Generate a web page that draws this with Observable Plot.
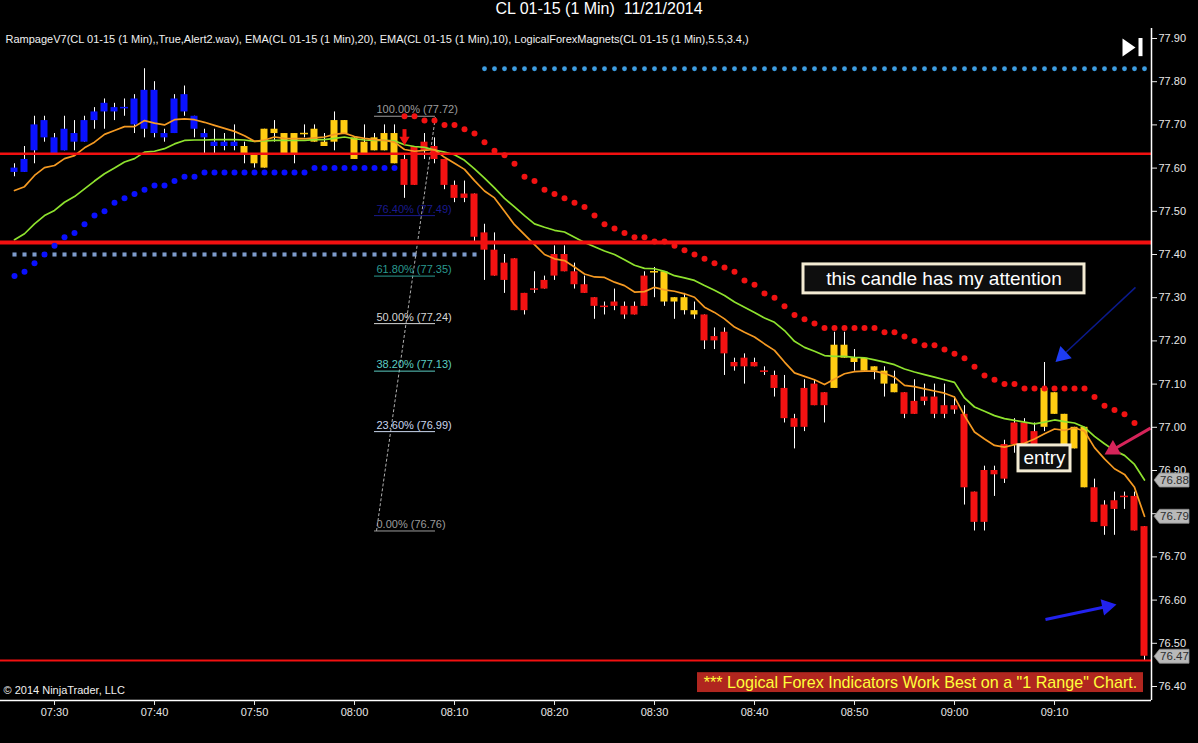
<!DOCTYPE html>
<html><head><meta charset="utf-8">
<script src="https://cdn.jsdelivr.net/npm/d3@7"></script>
<script src="https://cdn.jsdelivr.net/npm/@observablehq/plot@0.6"></script>
<style>
html,body{margin:0;padding:0;background:#000;}
#title{height:28px;line-height:27px;text-align:center;color:#fff;font:16px "Liberation Sans",Arial,sans-serif;background:#000;white-space:pre;}
#chart svg{display:block}
</style></head><body>
<div id="title">CL 01-15 (1 Min)  11/21/2014</div>
<div id="chart"></div>
<script>
// ---- tick labels (candle 0 = 07:26, one candle per minute)
const timeTickIdx = [4,14,24,34,44,54,64,74,84,94,104];
const timeTickLabels = ["07:30","07:40","07:50","08:00","08:10","08:20","08:30","08:40","08:50","09:00","09:10"];
const priceTicks = [76.40,76.50,76.60,76.70,76.80,76.90,77.00,77.10,77.20,77.30,77.40,77.50,77.60,77.70,77.80,77.90];
const hiddenPriceLabels = [76.80]; // covered by the 76.79 tag in the reference

// ---- OHLC
const opens = [77.59,77.59,77.64,77.71,77.67,77.64,77.68,77.66,77.71,77.73, 77.74,77.74,77.70,77.69,77.78,77.68,77.68,77.77,77.72,77.68, 77.66,77.66,77.65,77.65,77.63,77.60,77.68,77.68,77.63,77.68, 77.69,77.66,77.66,77.71,77.67,77.63,77.64,77.64,77.68,77.62, 77.65,77.66,77.65,77.62,77.56,77.54,77.54,77.45,77.41,77.38, 77.39,77.31,77.32,77.32,77.35,77.40,77.36,77.33,77.30,77.28, 77.29,77.28,77.26,77.28,77.36,77.36,77.30,77.30,77.27,77.26, 77.21,77.22,77.15,77.14,77.15,77.13,77.12,77.09,77.02,77.00, 77.10,77.05,77.09,77.19,77.16,77.16,77.14,77.13,77.10,77.08, 77.06,77.07,77.07,77.05,77.05,77.03,76.85,76.78,76.90,76.88, 76.96,77.01,76.99,77.00,77.08,77.03,76.95,77.00,76.86,76.82, 76.81,76.84,76.84,76.77];
const highs = [77.61,77.65,77.72,77.72,77.68,77.72,77.71,77.72,77.74,77.76, 77.75,77.76,77.77,77.83,77.80,77.69,77.77,77.79,77.72,77.69, 77.69,77.68,77.70,77.66,77.63,77.69,77.71,77.68,77.68,77.70, 77.70,77.68,77.73,77.71,77.67,77.70,77.68,77.70,77.70,77.63, 77.65,77.68,77.67,77.62,77.57,77.57,77.54,77.47,77.45,77.40, 77.39,77.31,77.36,77.35,77.42,77.42,77.38,77.35,77.30,77.29, 77.32,77.29,77.29,77.36,77.37,77.36,77.30,77.31,77.29,77.26, 77.23,77.23,77.16,77.17,77.16,77.14,77.13,77.12,77.03,77.11, 77.11,77.08,77.22,77.22,77.18,77.16,77.14,77.14,77.13,77.08, 77.11,77.10,77.10,77.10,77.07,77.05,76.85,76.91,76.91,76.97, 77.02,77.02,77.01,77.15,77.08,77.03,77.00,77.00,76.88,76.83, 76.85,76.85,76.85,76.77];
const lows = [77.58,77.59,77.61,77.66,77.63,77.64,77.64,77.66,77.69,77.69, 77.71,77.72,77.68,77.67,77.67,77.66,77.68,77.72,77.67,77.63, 77.63,77.64,77.64,77.61,77.60,77.60,77.66,77.63,77.61,77.67, 77.66,77.65,77.64,77.68,77.62,77.63,77.64,77.64,77.61,77.53, 77.56,77.62,77.61,77.55,77.52,77.52,77.43,77.34,77.35,77.31, 77.27,77.26,77.31,77.32,77.34,77.36,77.32,77.31,77.25,77.26, 77.27,77.25,77.26,77.28,77.30,77.28,77.25,77.26,77.25,77.18, 77.18,77.12,77.13,77.10,77.14,77.12,77.07,77.01,76.95,76.99, 77.05,77.01,77.09,77.16,77.13,77.13,77.11,77.07,77.08,77.02, 77.03,77.05,77.02,77.02,77.03,76.82,76.76,76.76,76.84,76.87, 76.94,76.94,76.95,76.99,77.03,76.96,76.95,76.86,76.78,76.75, 76.75,76.81,76.76,76.46];
const closes = [77.60,77.62,77.70,77.67,77.63,77.69,77.66,77.71,77.73,77.75, 77.73,77.74,77.76,77.78,77.68,77.67,77.76,77.73,77.69,77.67, 77.65,77.65,77.66,77.63,77.61,77.69,77.69,77.63,77.68,77.68, 77.66,77.65,77.71,77.68,77.62,77.66,77.67,77.68,77.61,77.56, 77.56,77.64,77.62,77.56,77.53,77.53,77.44,77.41,77.35,77.34, 77.27,77.27,77.32,77.34,77.40,77.36,77.33,77.31,77.28,77.28, 77.28,77.26,77.28,77.35,77.36,77.29,77.29,77.27,77.26,77.20, 77.20,77.17,77.14,77.16,77.14,77.13,77.09,77.02,77.00,77.09, 77.05,77.08,77.19,77.16,77.15,77.13,77.13,77.10,77.08,77.03, 77.03,77.06,77.03,77.03,77.04,76.86,76.78,76.90,76.89,76.96, 77.01,76.94,76.96,77.09,77.03,76.96,77.00,76.86,76.78,76.77, 76.83,76.84,76.76,76.47];
// Rampage trend state per candle: b = up, y = neutral, r = down
const trend = ["b","b","b","b","b","b","b","b","b","b","b","b","b","b","b","b","b","b","b","b","b","b","b",
  "y","y","y","y","y","y","y","y","y","y","y","y","y","y","y","y",
  "r","r","r","r","r","r","r","r","r","r","r","r","r","r","r","r","r","r","r","r","r","r","r","r","r",
  "y","y","y","y","y",
  "r","r","r","r","r","r","r","r","r","r","r","r","r",
  "y","y","y","y","y","y","y",
  "r","r","r","r","r","r","r","r","r","r","r","r","r","r",
  "y","y","y","y","y",
  "r","r","r","r","r","r"];

// ---- EMA(10) orange and EMA(20) green, read per candle
const ema10 = [77.548,77.557,77.583,77.601,77.606,77.622,77.629,77.647,77.660,77.678, 77.687,77.696,77.696,77.710,77.704,77.700,77.712,77.714,77.712,77.706, 77.699,77.692,77.685,77.675,77.662,77.665,77.672,77.669,77.668,77.668, 77.670,77.672,77.678,77.681,77.673,77.669,77.666,77.664,77.660,77.643, 77.639,77.641,77.643,77.625,77.611,77.597,77.571,77.547,77.531,77.500, 77.469,77.446,77.423,77.400,77.390,77.386,77.371,77.355,77.348,77.347, 77.336,77.328,77.313,77.314,77.324,77.318,77.315,77.309,77.301,77.278, 77.266,77.251,77.232,77.220,77.209,77.193,77.178,77.151,77.126,77.118, 77.110,77.099,77.112,77.124,77.129,77.130,77.130,77.125,77.116,77.097, 77.094,77.089,77.084,77.079,77.070,77.027,76.989,76.973,76.958,76.954, 76.960,76.963,76.973,76.985,76.996,76.993,76.999,76.991,76.953,76.927, 76.904,76.891,76.861,76.794];
const ema20 = [77.434,77.448,77.471,77.490,77.502,77.521,77.534,77.552,77.570,77.587, 77.600,77.614,77.622,77.637,77.639,77.645,77.656,77.664,77.665,77.665, 77.666,77.666,77.666,77.665,77.662,77.663,77.664,77.664,77.664,77.664, 77.666,77.666,77.669,77.672,77.668,77.665,77.664,77.664,77.663,77.654, 77.650,77.648,77.642,77.637,77.631,77.618,77.598,77.577,77.554,77.530, 77.510,77.490,77.471,77.463,77.456,77.452,77.440,77.428,77.418,77.408, 77.400,77.388,77.375,77.368,77.367,77.361,77.351,77.346,77.340,77.328, 77.317,77.305,77.290,77.278,77.266,77.253,77.243,77.224,77.199,77.185, 77.176,77.166,77.164,77.164,77.162,77.161,77.156,77.151,77.145,77.135, 77.128,77.122,77.116,77.110,77.104,77.068,77.047,77.037,77.027,77.020, 77.016,77.012,77.008,77.012,77.017,77.013,77.010,77.000,76.979,76.962, 76.946,76.935,76.914,76.878];

// ---- trailing stop dots
const supportStart = 0;   // blue dots, candles 0..38
const supportDots = [77.35,77.36,77.38,77.40,77.42,77.44,77.45,77.47,77.49,77.50, 77.52,77.53,77.54,77.55,77.56,77.56,77.57,77.58,77.58,77.59, 77.59,77.59,77.59,77.59,77.59,77.59,77.59,77.59,77.59,77.59, 77.60,77.60,77.60,77.60,77.60,77.60,77.60,77.60,77.60];
const resistStart = 39;   // red dots, candles 39..112
const resistDots = [77.72,77.72,77.71,77.71,77.70,77.70,77.69,77.68,77.66,77.64, 77.63,77.61,77.58,77.57,77.55,77.54,77.53,77.52,77.51,77.49, 77.47,77.46,77.45,77.44,77.44,77.43,77.43,77.42,77.41,77.40, 77.39,77.38,77.37,77.36,77.34,77.33,77.31,77.30,77.28,77.26, 77.25,77.24,77.23,77.23,77.23,77.23,77.23,77.23,77.22,77.22, 77.21,77.20,77.19,77.19,77.18,77.17,77.16,77.14,77.12,77.11, 77.10,77.10,77.09,77.09,77.09,77.09,77.09,77.09,77.09,77.07, 77.05,77.04,77.03,77.01];

// ---- magnet levels (dotted)
const magnetFrom = [0, 47], magnetTo = [46, 113], magnetPrice = [77.40, 77.83], magnetKind = ["square", "circle"];

// ---- horizontal red levels
const levelPrices = [77.633, 77.428, 76.46];
const levelWidths = [2.5, 4, 2];

// ---- Fibonacci retracement
const fibLabels = ["100.00% (77.72)","76.40% (77.49)","61.80% (77.35)","50.00% (77.24)","38.20% (77.13)","23.60% (76.99)","0.00% (76.76)"];
const fibPrices = [77.72, 77.49, 77.35, 77.24, 77.13, 76.99, 76.76];
const fibColors = ["#9c9c9c","#1a1a8e","#2b9a90","#d6d6d6","#5ccdc2","#c9d6ee","#9c9c9c"];
const fibSpan = {x1: 36.0, x2: 42.1, startX: 36.2, endX: 42.1};

// ---- annotations (data coordinates: candle index, price)
const notes = [
  {text: "this candle has my attention", x1: 78.9, x2: 107.0, y1: 77.377, y2: 77.310, tx: 92.95, ty: 77.343},
  {text: "entry", x1: 100.4, x2: 105.6, y1: 76.958, y2: 76.898, tx: 103.0, ty: 76.928}
];
const arrows = [
  {x1: 112.1, y1: 77.324, x2: 104.1, y2: 77.151, line: "#0b1a8c", head: "#1e3cf4", w: 1.5},
  {x1: 113.6, y1: 76.998, x2: 109.0, y2: 76.937, line: "#d6245a", head: "#d6245a", w: 3},
  {x1: 103.1, y1: 76.555, x2: 110.2, y2: 76.590, line: "#2222ee", head: "#2222ee", w: 3}
];
const signalArrow = {i: 39, stemTop: 77.689, stemBottom: 77.668, head: 77.666};
const banner = {text: '*** Logical Forex Indicators Work Best on a "1 Range" Chart.', x1: 68.3, x2: 112.9, y1: 76.432, y2: 76.386, tx: 90.6, ty: 76.409};
const legendText = "RampageV7(CL 01-15 (1 Min),,True,Alert2.wav), EMA(CL 01-15 (1 Min),20), EMA(CL 01-15 (1 Min),10), LogicalForexMagnets(CL 01-15 (1 Min),5.5,3.4,)";
const copyrightText = "\u00a9 2014 NinjaTrader, LLC";
const playIcon = {x: 111.45, y: 77.879, barX: 112.6, barTop: 77.90, barBottom: 77.858};

// ---------------------------------------------------------------
const xDomain = [0, 113], xRange = [14, 1144];
const yDomain = [76.40, 77.90], yRange = [658, 10];
const pxX = (xRange[1] - xRange[0]) / (xDomain[1] - xDomain[0]);
const pxY = (yRange[0] - yRange[1]) / (yDomain[1] - yDomain[0]);
const W = 1198, H = 715, mR = 47, mB = 43;
const axisRightX = xDomain[0] + ((W - mR) - xRange[0]) / pxX;
const axisBottomY = yDomain[0] - ((H - mB) - yRange[0]) / pxY;

const trendColor = {b: "#0a12ff", y: "#ffcc12", r: "#f21212"};
const candles = opens.map((o, i) => ({i, open: o, high: highs[i], low: lows[i], close: closes[i], color: trendColor[trend[i]]}));
const bodies = candles.filter(d => d.open !== d.close);
const dojis = candles.filter(d => d.open === d.close);
const emaRows = ema10.map((v, i) => ({i, e10: v, e20: ema20[i]}));
const supRows = supportDots.map((v, k) => ({i: supportStart + k, v}));
const resRows = resistDots.map((v, k) => ({i: resistStart + k, v}));
const magnetRows = [];
magnetPrice.forEach((p, m) => { for (let i = magnetFrom[m]; i <= magnetTo[m]; i++) magnetRows.push({i, v: p, kind: magnetKind[m]}); });
const levels = levelPrices.map((p, k) => ({p, w: levelWidths[k]}));
const fibs = fibPrices.map((p, k) => ({p, label: fibLabels[k], color: fibColors[k]}));

const headR = 6.2;
const headBack = 2 * Math.sqrt(Math.PI * headR * headR / (3 * Math.sqrt(3)));
const arrowRows = arrows.map(a => {
  const dx = (a.x2 - a.x1) * pxX, dy = -(a.y2 - a.y1) * pxY;
  const len = Math.hypot(dx, dy), ux = dx / len, uy = dy / len;
  return {...a, hx: a.x2 - ux * headBack / pxX, hy: a.y2 + uy * headBack / pxY, rot: Math.atan2(ux, -uy) * 180 / Math.PI};
});
const tagRows = [
  {v: ema20[ema20.length - 1]},
  {v: ema10[ema10.length - 1]},
  {v: closes[closes.length - 1]}
];
const tagX = 115.7, tagTextX = 116.0;
const tagSymbol = {draw(ctx) { ctx.moveTo(-17.5, 0); ctx.lineTo(-12, -7); ctx.lineTo(17.5, -7); ctx.lineTo(17.5, 7); ctx.lineTo(-12, 7); ctx.closePath(); }};
const playSymbol = {draw(ctx) { ctx.moveTo(-6.5, -9); ctx.lineTo(6.5, 0); ctx.lineTo(-6.5, 9); ctx.closePath(); }};

const chart = Plot.plot({
  width: W, height: H,
  marginLeft: 0, marginRight: mR, marginTop: 0, marginBottom: mB,
  x: {domain: xDomain, range: xRange},
  y: {domain: yDomain, range: yRange},
  color: {type: "identity"},
  style: {background: "#000", color: "#e8e8e8", fontFamily: "'Liberation Sans', Arial, sans-serif", fontSize: "11px", overflow: "visible"},
  marks: [
    // magnet dotted levels
    Plot.dot(magnetRows.filter(d => d.kind === "square"), {x: "i", y: "v", symbol: "square", r: 2.3, fill: "#7d9bcc"}),
    Plot.dot(magnetRows.filter(d => d.kind === "circle"), {x: "i", y: "v", r: 2.4, fill: "#3d9ce0"}),
    // fib lines and labels
    Plot.link([fibSpan], {x1: "startX", y1: () => fibPrices[fibPrices.length - 1], x2: "endX", y2: () => fibPrices[0], stroke: "#b0b0b0", strokeWidth: 1, strokeDasharray: "3,2"}),
    Plot.ruleY(fibs, {y: "p", x1: () => fibSpan.x1, x2: () => fibSpan.x2, stroke: "color", strokeWidth: 1}),
    Plot.text(fibs, {x: () => fibSpan.startX, y: "p", text: "label", fill: "color", textAnchor: "start", lineAnchor: "bottom", dy: -3, fontSize: 11}),
    // candles
    Plot.ruleX(candles, {x: "i", y1: "low", y2: "high", stroke: "#ffffff", strokeWidth: 1}),
    Plot.rect(bodies, {x1: d => d.i - 0.35, x2: d => d.i + 0.35, y1: "open", y2: "close", fill: "color"}),
    Plot.ruleY(dojis, {y: "open", x1: d => d.i - 0.4, x2: d => d.i + 0.4, stroke: "color", strokeWidth: 1.5}),
    // EMAs
    Plot.line(emaRows, {x: "i", y: "e20", stroke: "#8ee22e", strokeWidth: 1.7}),
    Plot.line(emaRows, {x: "i", y: "e10", stroke: "#f59a22", strokeWidth: 1.7}),
    // red levels
    Plot.ruleY(levels, {y: "p", stroke: "#f21010", strokeWidth: "w"}),
    // trailing dots
    Plot.dot(supRows, {x: "i", y: "v", r: 3, fill: "#0a10ff"}),
    Plot.dot(resRows, {x: "i", y: "v", r: 3, fill: "#f21212"}),
    // signal arrow
    Plot.ruleX([signalArrow], {x: "i", y1: "stemTop", y2: "stemBottom", stroke: "#f21212", strokeWidth: 4}),
    Plot.dot([signalArrow], {x: "i", y: "head", symbol: "triangle", r: 3.8, rotate: 180, fill: "#f21212"}),
    // annotation boxes
    Plot.rect(notes, {x1: "x1", x2: "x2", y1: "y1", y2: "y2", fill: "#0e0e0e", stroke: "#f3ebd3", strokeWidth: 3}),
    Plot.text(notes, {x: "tx", y: "ty", text: "text", fill: "#ffffff", fontSize: 19}),
    // arrows
    Plot.link(arrowRows, {x1: "x1", y1: "y1", x2: "hx", y2: "hy", stroke: "line", strokeWidth: "w"}),
    Plot.dot(arrowRows, {x: "hx", y: "hy", symbol: "triangle", r: headR, rotate: "rot", fill: "head"}),
    // banner
    Plot.rect([banner], {x1: "x1", x2: "x2", y1: "y1", y2: "y2", fill: "#b0261f"}),
    Plot.text([banner], {x: "tx", y: "ty", text: "text", fill: "#ffff3a", fontSize: 16.1}),
    // legend / copyright
    Plot.text([legendText], {frameAnchor: "top-left", text: d => d, dx: 5, dy: 11, textAnchor: "start", lineAnchor: "middle", fill: "#f0f0f0", fontSize: 11}),
    Plot.text([copyrightText], {frameAnchor: "bottom-left", text: d => d, dx: 3, dy: -10, textAnchor: "start", lineAnchor: "middle", fill: "#f0f0f0", fontSize: 11}),
    // play icon
    Plot.dot([playIcon], {x: "x", y: "y", symbol: playSymbol, fill: "#ffffff", stroke: "none"}),
    Plot.ruleX([playIcon], {x: "barX", y1: "barTop", y2: "barBottom", stroke: "#ffffff", strokeWidth: 4}),
    // axes
    Plot.ruleX([axisRightX], {stroke: "#ffffff", strokeWidth: 1.5}),
    Plot.ruleY([axisBottomY], {stroke: "#ffffff", strokeWidth: 1.5}),
    Plot.axisY({anchor: "right", ticks: priceTicks, tickFormat: d => hiddenPriceLabels.includes(d) ? "" : d.toFixed(2), tickSize: 5, tickPadding: 2, fontSize: 11, color: "#e8e8e8"}),
    Plot.axisX({anchor: "bottom", ticks: timeTickIdx, tickFormat: d => timeTickLabels[timeTickIdx.indexOf(d)], tickSize: 5, tickPadding: 3, fontSize: 11, color: "#e8e8e8"}),
    // last-value tags
    Plot.dot(tagRows, {x: () => tagX, y: "v", symbol: tagSymbol, fill: "#b9b9b9", stroke: "#8a8a8a", strokeWidth: 0.8}),
    Plot.text(tagRows, {x: () => tagTextX, y: "v", text: d => d.v.toFixed(2), fill: "#2e2e2e", fontSize: 11.5, dy: 0.5})
  ]
});
document.getElementById("chart").appendChild(chart);
</script>
</body></html>
